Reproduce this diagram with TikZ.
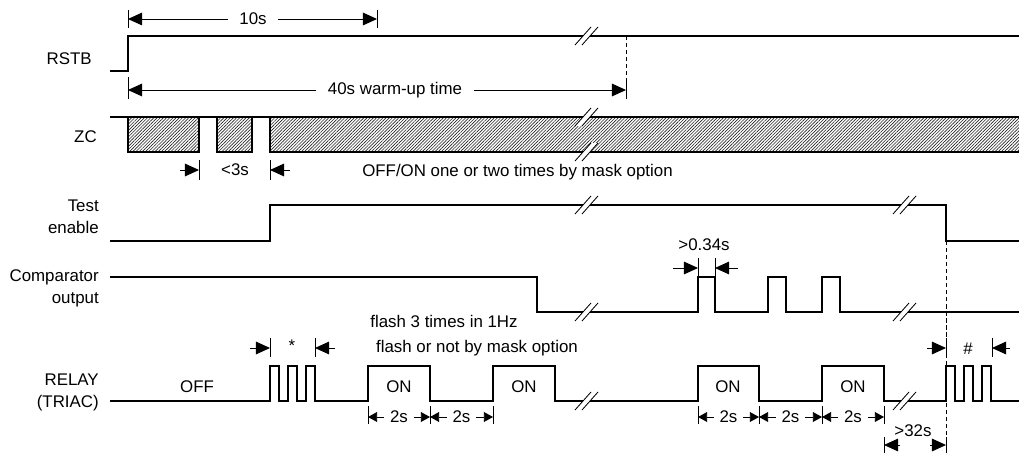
\documentclass[tikz,border=0pt]{standalone}
\usepackage{fontspec}
\setmainfont{Liberation Sans}
\usepackage{tikz}
\usetikzlibrary{arrows.meta, patterns.meta}

\begin{document}
\begin{tikzpicture}[
    x=0.025cm, y=-0.025cm,
    sig/.style={line width=0.8pt},
    tk/.style={line width=0.6pt},
    dim/.style={line width=0.6pt, -{Triangle[length=10pt, width=9pt]}},
    sdim/.style={line width=0.6pt, -{Triangle[length=6.5pt, width=7pt]}},
    txt/.style={font=\fontsize{12}{15.6}\selectfont, inner sep=0pt},
    dimtext/.style={txt, inner xsep=8pt},
    sdimtext/.style={txt, inner xsep=4pt},
    signame/.style={txt, align=right, anchor=east},
    hatch/.style={pattern={Lines[angle=45, distance=1.6pt, line width=0.45pt]}, pattern color=black!85},
    brk/.pic={
        \fill[white] (-12,9) -- (4,-9) -- (11,-9) -- (-5,9) -- cycle;
        \draw[line width=0.6pt] (-12,9) -- (4,-9) (-5,9) -- (11,-9);
    }
]
\useasboundingbox (0,0) rectangle (1019,453);

% Signal names
\node (nrstb) [signame] at (92,59) {RSTB};
\node (nzc) [signame] at (97,137) {ZC};
\node (ntest) [signame] at (99,217) {Test\\enable};
\node (ncomp) [signame] at (99,288) {Comparator\\output};
\node (nrelay) [signame] at (99,392) {RELAY\\(TRIAC)};

% RSTB
\draw[sig] (110,71) -- (128,71) -- (128,36) -- (1019,36);
\pic at (587,36) {brk};
\draw[tk, densely dashed] (626,36) -- (626,82);
\draw[tk] (626,82) -- (626,99);

% 10s
\draw[tk] (128,10) -- (128,28) (377,10) -- (377,28);
\node (t10) [dimtext] at (253,19) {10s};
\draw[dim] (t10.west) -- (128,19);
\draw[dim] (t10.east) -- (377,19);

% 40s warm-up
\draw[tk] (128,77) -- (128,99);
\node (t40) [dimtext] at (395,90) {40s warm-up time};
\draw[dim] (t40.west) -- (128,90);
\draw[dim] (t40.east) -- (626,90);

% ZC
\fill[hatch] (128,117) rectangle (199,152);
\fill[hatch] (217,117) rectangle (252,152);
\fill[hatch] (270,117) rectangle (1019,152);
\draw[sig] (110,117) -- (1019,117);
\draw[sig] (128,117) -- (128,152) -- (199,152) -- (199,117);
\draw[sig] (217,117) -- (217,152) -- (252,152) -- (252,117);
\draw[sig] (270,117) -- (270,152) -- (1019,152);
\pic at (587,117) {brk};
\pic at (587,152) {brk};

% <3s
\draw[tk] (199,160) -- (199,180) (270,160) -- (270,180);
\node (t3) [txt] at (235,170) {<3s};
\draw[dim] (180,170) -- (199,170);
\draw[dim] (290,170) -- (270,170);
\node (tmask) [txt, anchor=west] at (362,172) {OFF/ON one or two times by mask option};

% Test enable
\draw[sig] (110,241) -- (270,241) -- (270,205) -- (946,205) -- (946,241) -- (1019,241);
\pic at (587,205) {brk};
\pic at (905,205) {brk};
\draw[tk, densely dashed] (946,241) -- (946,453);

% Comparator output
\draw[sig] (110,277) -- (537,277) |- (698,312) |- (715,277) |- (768,312) |- (786,277)
    |- (822,312) |- (840,277) |- (1019,312);
\pic at (587,312) {brk};
\pic at (905,312) {brk};

% >0.34s
\draw[tk] (698,258) -- (698,277) (715,258) -- (715,277);
\node (t034) [txt] at (704,245) {>0.34s};
\draw[dim] (673,268) -- (698,268);
\draw[dim] (738,268) -- (715,268);

% RELAY
\draw[sig] (110,401) -- (270,401) |- (279,366) |- (288,401) |- (297,366) |- (306,401)
    |- (315,366) |- (368,401) |- (430,366) |- (493,401) |- (555,366) |- (698,401)
    |- (759,366) |- (822,401) |- (884,366) |- (946,401) |- (955,366) |- (964,401)
    |- (973,366) |- (982,401) |- (991,366) |- (1019,401);
\pic at (587,401) {brk};
\pic at (905,401) {brk};

\node (toff) [txt] at (197,387) {OFF};
\node (ton1) [txt] at (399,387) {ON};
\node (ton2) [txt] at (524,387) {ON};
\node (ton3) [txt] at (728,387) {ON};
\node (ton4) [txt] at (853,387) {ON};
\node (tflash) [txt] at (444,321) {flash 3 times in 1Hz};
\node (tflmask) [txt] at (477,348) {flash or not by mask option};

% * and #
\draw[tk] (270,338) -- (270,357) (315,338) -- (315,357);
\node (tstar) [txt] at (292,346) {*};
\draw[dim] (250,348) -- (270,348);
\draw[dim] (335,348) -- (315,348);
\draw[tk] (946,338) -- (946,357) (992,338) -- (992,357);
\node (thash) [txt] at (968,349) {\#};
\draw[dim] (927,348) -- (946,348);
\draw[dim] (1010,348) -- (992,348);

% 2s intervals
\foreach \a in {368,430,493,698,759,822,884}
    \draw[tk] (\a,406) -- (\a,424);
\foreach \a/\b [count=\i] in {368/430,430/493,698/759,759/822,822/884} {
    \node (t2s\i) [sdimtext] at ({(\a+\b)/2},417) {2s};
    \draw[sdim] (t2s\i.west) -- (\a,417);
    \draw[sdim] (t2s\i.east) -- (\b,417);
}

% >32s
\draw[tk] (884,437) -- (884,453) (946,437) -- (946,453);
\node (t32) [txt] at (913,431) {>32s};
\draw[dim] (900,445) -- (884,445);
\draw[dim] (930,445) -- (946,445);

\end{tikzpicture}
\end{document}
